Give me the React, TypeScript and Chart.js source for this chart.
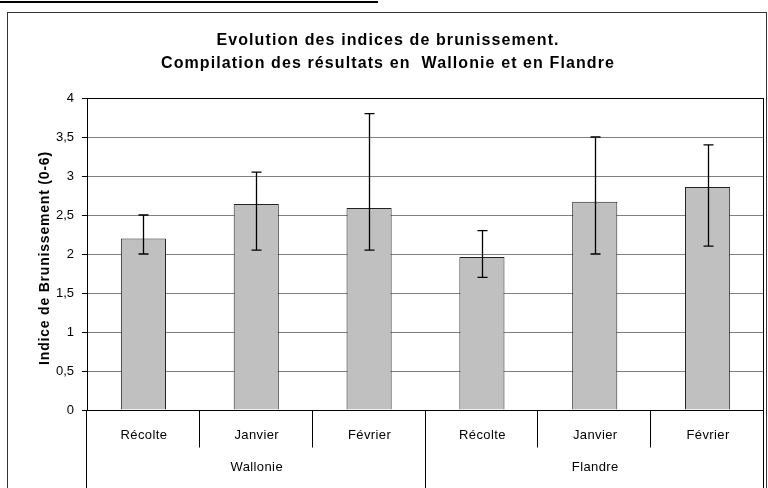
import React, { useEffect, useRef } from 'react';
import { Chart, registerables } from 'chart.js';

Chart.register(...registerables);

const categories = ['Récolte', 'Janvier', 'Février', 'Récolte', 'Janvier', 'Février'];
const regions = ['Wallonie', 'Flandre'];
const regionSpans = [3, 3];
const values = [2.2, 2.64, 2.59, 1.96, 2.67, 2.86];
const errLow = [2.0, 2.05, 2.05, 1.7, 2.0, 2.1];
const errHigh = [2.5, 3.05, 3.8, 2.3, 3.5, 3.4];
const yMin = 0;
const yMax = 4;
const yStep = 0.5;
const titleLines = [
  'Evolution des indices de brunissement.',
  'Compilation des résultats en  Wallonie et en Flandre',
];
const yTitle = 'Indice de Brunissement (0-6)';

const FONT = '"Liberation Sans", Arial, Helvetica, sans-serif';

const decorPlugin = {
  id: 'decor',
  beforeDraw(chart: any) {
    const { ctx, width, height } = chart;
    ctx.save();
    ctx.fillStyle = '#ffffff';
    ctx.fillRect(0, 0, width, height);
    ctx.strokeStyle = '#333333';
    ctx.lineWidth = 1;
    ctx.strokeRect(7.5, 12.5, 759, height);
    ctx.restore();
  },
  afterDatasetsDraw(chart: any) {
    const { ctx } = chart;
    const y = chart.scales.y;
    const meta = chart.getDatasetMeta(0);
    ctx.save();
    ctx.strokeStyle = '#000000';
    ctx.lineWidth = 1.3;
    meta.data.forEach((bar: any, i: number) => {
      const x = Math.round(bar.x) + 0.5;
      const yl = y.getPixelForValue(errLow[i]);
      const yh = y.getPixelForValue(errHigh[i]);
      ctx.beginPath();
      ctx.moveTo(x, yl);
      ctx.lineTo(x, yh);
      ctx.moveTo(x - 5, yl);
      ctx.lineTo(x + 5, yl);
      ctx.moveTo(x - 5, yh);
      ctx.lineTo(x + 5, yh);
      ctx.stroke();
    });
    ctx.restore();
  },
  afterDraw(chart: any) {
    const { ctx, chartArea, height } = chart;
    const xs = chart.scales.x;
    ctx.save();
    ctx.strokeStyle = '#000000';
    ctx.lineWidth = 1;
    ctx.beginPath();
    ctx.moveTo(chartArea.left, Math.round(chartArea.top) + 0.5);
    ctx.lineTo(chartArea.right, Math.round(chartArea.top) + 0.5);
    ctx.moveTo(Math.round(chartArea.right) - 0.5, chartArea.top);
    ctx.lineTo(Math.round(chartArea.right) - 0.5, chartArea.bottom);
    ctx.moveTo(chartArea.left - 5, Math.round(chartArea.bottom) + 0.5);
    ctx.lineTo(chartArea.right, Math.round(chartArea.bottom) + 0.5);
    ctx.stroke();

    const half = (xs.getPixelForValue(1) - xs.getPixelForValue(0)) / 2;
    const groupBounds: number[] = [0];
    regionSpans.forEach((s) => groupBounds.push(groupBounds[groupBounds.length - 1] + s));
    const axisY = Math.round(chartArea.bottom) + 0.5;
    ctx.beginPath();
    for (let i = 0; i <= categories.length; i++) {
      const bx = Math.round(xs.getPixelForValue(Math.min(i, categories.length - 1)) + (i === categories.length ? half : -half)) - 0.5;
      const isGroup = groupBounds.includes(i);
      ctx.moveTo(bx, axisY);
      ctx.lineTo(bx, isGroup ? height : axisY + 37);
    }
    ctx.stroke();

    ctx.fillStyle = '#000000';
    ctx.textAlign = 'center';
    ctx.textBaseline = 'middle';
    ctx.font = `13px ${FONT}`;
    (ctx as any).letterSpacing = '0.4px';
    categories.forEach((c, i) => {
      ctx.fillText(c, xs.getPixelForValue(i) + 0.5, 435);
    });
    regions.forEach((r, g) => {
      const a = xs.getPixelForValue(groupBounds[g]) - half;
      const b = xs.getPixelForValue(groupBounds[g + 1] - 1) + half;
      ctx.fillText(r, (a + b) / 2 + 0.5, 467);
    });

    ctx.font = `bold 16px ${FONT}`;
    (ctx as any).letterSpacing = '1.1px';
    titleLines.forEach((t, i) => {
      ctx.fillText(t, 388, 41 + i * 23);
    });

    ctx.font = `bold 14px ${FONT}`;
    (ctx as any).letterSpacing = '0.8px';
    ctx.translate(45, 258);
    ctx.rotate(-Math.PI / 2);
    ctx.fillText(yTitle, 0, 0);
    ctx.restore();
  },
};

export default function App() {
  const canvasRef = useRef<HTMLCanvasElement | null>(null);

  useEffect(() => {
    const canvas = canvasRef.current;
    if (!canvas) return;
    const chart = new Chart(canvas, {
      type: 'bar',
      data: {
        labels: categories,
        datasets: [
          {
            data: values,
            backgroundColor: '#c0c0c0',
            borderColor: '#222222',
            borderWidth: 1,
            barPercentage: 0.4,
            categoryPercentage: 1,
          },
        ],
      },
      options: {
        animation: false,
        responsive: false,
        devicePixelRatio: 1,
        layout: { padding: { top: 98, right: 4, left: 0, bottom: 0 } },
        plugins: {
          legend: { display: false },
          title: { display: false },
          tooltip: { enabled: false },
        },
        scales: {
          x: {
            type: 'category',
            offset: true,
            grid: { display: false },
            border: { display: false },
            ticks: { display: false },
            afterFit: (s: any) => {
              s.height = 78;
            },
          },
          y: {
            min: yMin,
            max: yMax,
            ticks: {
              stepSize: yStep,
              color: '#000000',
              font: { family: FONT, size: 13 },
              padding: 8,
              callback: (v: any) => String(v).replace('.', ','),
            },
            grid: {
              color: (c: any) => (c.tick && c.tick.value === yMax ? '#000000' : '#808080'),
              tickColor: '#000000',
              tickLength: 5,
              lineWidth: 1,
            },
            border: { color: '#000000', width: 1 },
            afterFit: (s: any) => {
              s.width = 87;
            },
          },
        },
      },
      plugins: [decorPlugin],
    });
    return () => chart.destroy();
  }, []);

  return (
    <div style={{ position: 'absolute', left: 0, top: 0, width: 768, height: 488, background: '#fff', overflow: 'hidden' }}>
      <div style={{ position: 'absolute', left: 0, top: 1, width: 378, height: 2, background: '#000' }} />
      <canvas ref={canvasRef} width={768} height={488} style={{ display: 'block', width: 768, height: 488 }} />
    </div>
  );
}
